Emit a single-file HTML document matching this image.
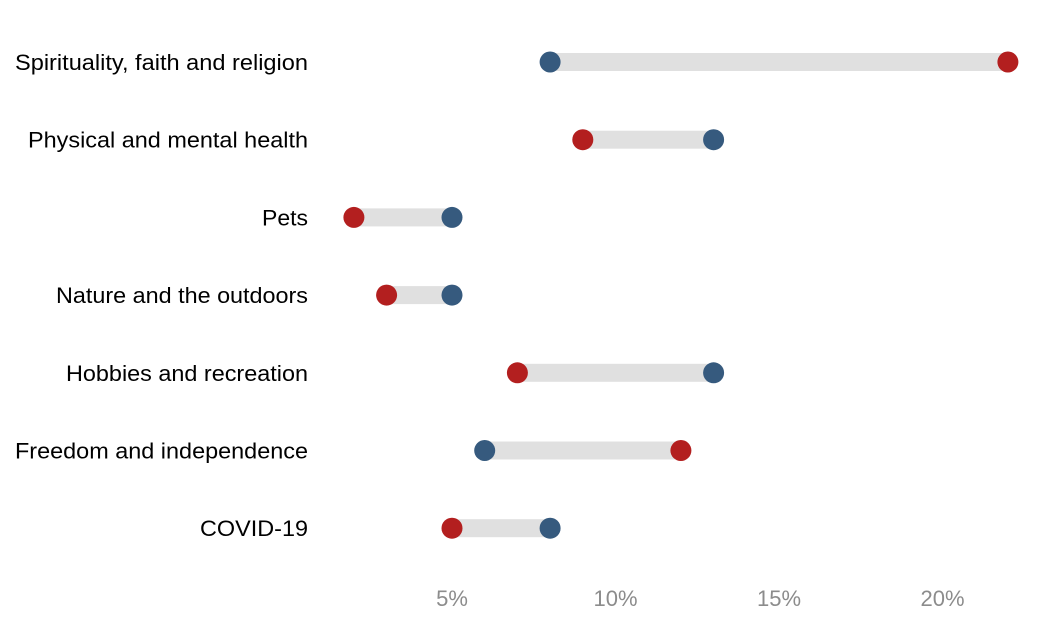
<!DOCTYPE html>
<html><head><meta charset="utf-8"><style>
html,body{margin:0;padding:0;background:#fff;width:1056px;height:624px;overflow:hidden}
svg{display:block;font-family:"Liberation Sans",sans-serif}
</style></head><body>
<svg id="chart" width="1056" height="624"></svg>
<script>
const categories = ["Spirituality, faith and religion","Physical and mental health","Pets","Nature and the outdoors","Hobbies and recreation","Freedom and independence","COVID-19"];
const blueValues = [8,13,5,5,13,6,8];
const redValues = [22,9,2,3,7,12,5];
const tickValues = [5,10,15,20];
const tickLabels = ["5%","10%","15%","20%"];
const labelWidths = [293,280,46,252,242,293,108];

const svg = document.getElementById('chart');
const NS = 'http://www.w3.org/2000/svg';
function x(v){ return 452 + (v - 5) * 32.7; }
function y(i){ return 62 + i * 77.7; }
function mk(tag, attrs){ const e = document.createElementNS(NS, tag); for (const k in attrs) e.setAttribute(k, attrs[k]); svg.appendChild(e); return e; }

tickValues.forEach((t, i) => {
  const tx = mk('text', {x: x(t), y: 606, 'text-anchor': 'middle', 'font-size': 22, fill: '#8c8c8c'});
  tx.textContent = tickLabels[i];
  
  
});

categories.forEach((c, i) => {
  const yy = y(i);
  const lbl = mk('text', {x: 308, y: yy + 8, 'text-anchor': 'end', 'font-size': 22, fill: '#000', textLength: labelWidths[i], lengthAdjust: 'spacingAndGlyphs'});
  lbl.textContent = c;
  
  
  const a = Math.min(blueValues[i], redValues[i]), b = Math.max(blueValues[i], redValues[i]);
  const bar = mk('rect', {x: x(a), y: yy - 9, width: x(b) - x(a), height: 18, fill: '#e0e0e0'});
  
  
  const bd = mk('circle', {cx: x(blueValues[i]), cy: yy, r: 10.5, fill: '#365a7e'});
  
  
  const rd = mk('circle', {cx: x(redValues[i]), cy: yy, r: 10.5, fill: '#b31f1f'});
  
  
});
</script>
</body></html>
